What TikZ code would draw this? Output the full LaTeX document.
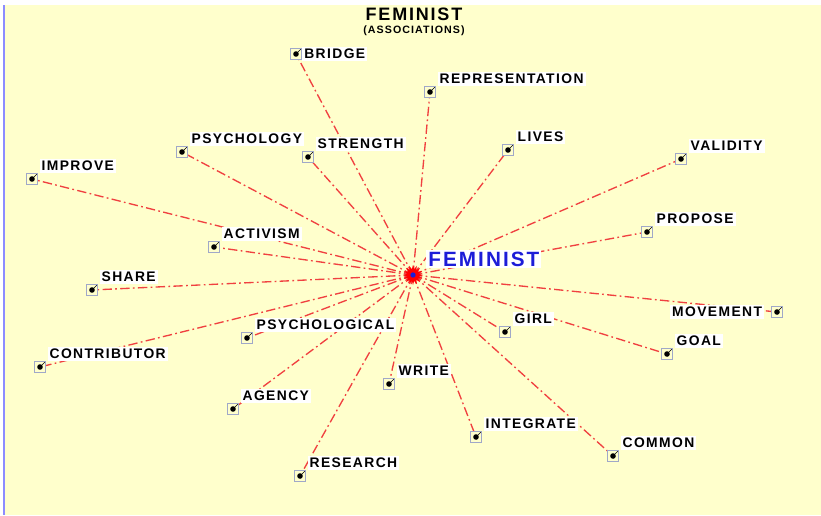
\documentclass[tikz,border=0pt]{standalone}
\usepackage{fontspec}
\setmainfont{Liberation Sans}
\newfontfamily\wordfont[LetterSpace=10]{Liberation Sans}
\usetikzlibrary{shapes.geometric, positioning, backgrounds}
\definecolor{paper}{HTML}{FFFFCC}
\definecolor{linkred}{HTML}{F04040}
\definecolor{boxgray}{HTML}{A0A8C8}
\definecolor{hubblue}{HTML}{1C1CD8}
\tikzstyle{marker} = [rectangle, draw=boxgray, line width=0.6pt, minimum size=8.5pt, inner sep=0pt, fill=paper,
  path picture={\fill[black] (path picture bounding box.center) circle (2.1pt);
    \draw[black, line width=0.5pt] (path picture bounding box.center) -- (path picture bounding box.north east);}]
\tikzstyle{word} = [fill=white, inner xsep=1.5pt, inner ysep=1.5pt, font=\wordfont\bfseries\fontsize{10.4}{12}\selectfont]
\tikzstyle{link} = [draw=linkred, line width=1pt, dash pattern=on 7pt off 2.5pt on 1.3pt off 2.5pt]
\tikzstyle{hub} = [star, star points=16, star point ratio=1.7, fill=red, draw=none, inner sep=0pt, minimum size=15pt,
  path picture={\fill[hubblue] (path picture bounding box.center) circle (2pt);}]

\begin{document}
\begin{tikzpicture}[x=0.75pt, y=-0.75pt]
			\useasboundingbox (0,0) rectangle (821,515);
			
			% title
			\node[font=\wordfont\bfseries\fontsize{13.5}{15}\selectfont] (title) at (414,14) {FEMINIST};
			\node[font=\wordfont\bfseries\fontsize{8}{9}\selectfont] (subtitle) at (414,31) {(ASSOCIATIONS)};
			
			% centre word
			\node[hub] (feminist) at (413,275) {};
			\node[fill=white, inner sep=1.5pt, text=hubblue, font=\wordfont\bfseries\fontsize{15.5}{17}\selectfont, above right=-1pt and 4pt of feminist] (feministL) {FEMINIST};
			
			% associated words
			\node[marker] (bridge) at (296,54) {};
			\node[word, right=0pt of bridge] (bridgeL) {BRIDGE};
			\node[marker] (representation) at (430,92) {};
			\node[word, above right=0pt and 1pt of representation] (representationL) {REPRESENTATION};
			\node[marker] (psychology) at (182,152) {};
			\node[word, above right=0pt and 1pt of psychology] (psychologyL) {PSYCHOLOGY};
			\node[marker] (strength) at (308,157) {};
			\node[word, above right=0pt and 1pt of strength] (strengthL) {STRENGTH};
			\node[marker] (lives) at (508,150) {};
			\node[word, above right=0pt and 1pt of lives] (livesL) {LIVES};
			\node[marker] (validity) at (681,159) {};
			\node[word, above right=0pt and 1pt of validity] (validityL) {VALIDITY};
			\node[marker] (improve) at (32,179) {};
			\node[word, above right=0pt and 1pt of improve] (improveL) {IMPROVE};
			\node[marker] (propose) at (647,232) {};
			\node[word, above right=0pt and 1pt of propose] (proposeL) {PROPOSE};
			\node[marker] (activism) at (214,247) {};
			\node[word, above right=0pt and 1pt of activism] (activismL) {ACTIVISM};
			\node[marker] (share) at (92,290) {};
			\node[word, above right=0pt and 1pt of share] (shareL) {SHARE};
			\node[marker] (movement) at (777,312) {};
			\node[word, left=5pt of movement] (movementL) {MOVEMENT};
			\node[marker] (girl) at (505,332) {};
			\node[word, above right=0pt and 1pt of girl] (girlL) {GIRL};
			\node[marker] (goal) at (667,354) {};
			\node[word, above right=0pt and 1pt of goal] (goalL) {GOAL};
			\node[marker] (psychological) at (247,338) {};
			\node[word, above right=0pt and 1pt of psychological] (psychologicalL) {PSYCHOLOGICAL};
			\node[marker] (contributor) at (40,367) {};
			\node[word, above right=0pt and 1pt of contributor] (contributorL) {CONTRIBUTOR};
			\node[marker] (write) at (389,384) {};
			\node[word, above right=0pt and 1pt of write] (writeL) {WRITE};
			\node[marker] (agency) at (233,409) {};
			\node[word, above right=0pt and 1pt of agency] (agencyL) {AGENCY};
			\node[marker] (integrate) at (476,437) {};
			\node[word, above right=0pt and 1pt of integrate] (integrateL) {INTEGRATE};
			\node[marker] (common) at (613,456) {};
			\node[word, above right=0pt and 1pt of common] (commonL) {COMMON};
			\node[marker] (research) at (300,476) {};
			\node[word, above right=0pt and 1pt of research] (researchL) {RESEARCH};
			
			\begin{scope}[on background layer]
				\fill[paper] (5,5) rectangle (821,515);
				\draw[blue!45, line width=2pt] (4,5) -- (4,515);
				\draw [link] (feminist.center) -- (bridge.center);
				\draw [link] (feminist.center) -- (representation.center);
				\draw [link] (feminist.center) -- (psychology.center);
				\draw [link] (feminist.center) -- (strength.center);
				\draw [link] (feminist.center) -- (lives.center);
				\draw [link] (feminist.center) -- (validity.center);
				\draw [link] (feminist.center) -- (improve.center);
				\draw [link] (feminist.center) -- (propose.center);
				\draw [link] (feminist.center) -- (activism.center);
				\draw [link] (feminist.center) -- (share.center);
				\draw [link] (feminist.center) -- (movement.center);
				\draw [link] (feminist.center) -- (girl.center);
				\draw [link] (feminist.center) -- (goal.center);
				\draw [link] (feminist.center) -- (psychological.center);
				\draw [link] (feminist.center) -- (contributor.center);
				\draw [link] (feminist.center) -- (write.center);
				\draw [link] (feminist.center) -- (agency.center);
				\draw [link] (feminist.center) -- (integrate.center);
				\draw [link] (feminist.center) -- (common.center);
				\draw [link] (feminist.center) -- (research.center);
			\end{scope}
			
		\end{tikzpicture}
\end{document}
